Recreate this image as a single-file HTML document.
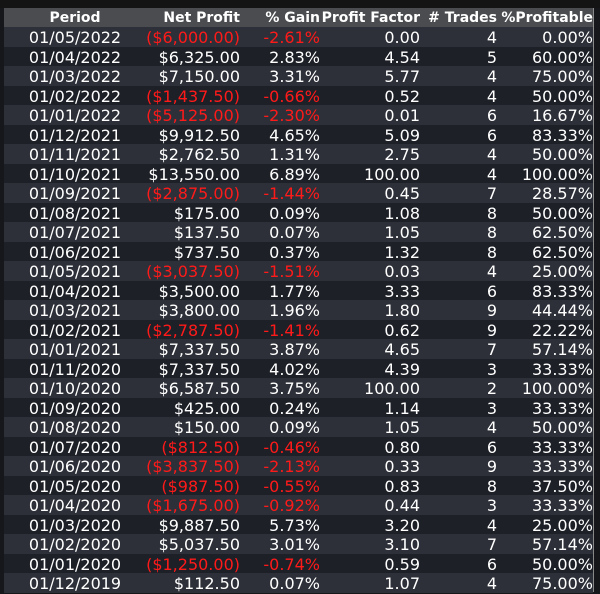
<!DOCTYPE html><html><head><style>
body{margin:0;width:600px;height:592px;overflow:hidden;background:#15171b;font-family:"DejaVu Sans",sans-serif;font-size:16px;color:#fff}
#w{position:absolute;left:4px;top:8px;width:589px;height:584px;background:#1d2027;border-left:1px solid #777;}
.r{position:absolute;left:0;width:589px;height:19.5px;line-height:21px}
.r span{position:absolute;white-space:nowrap}
.h{background:#4a4c50;font-weight:bold;height:19px;line-height:20px;font-size:14px}
.o{background:#2d3038}.e{background:#1d2027}
.red{color:#ff1a1a}
#sb{position:absolute;left:593px;top:8px;width:1px;height:584px;background:#888}
</style></head><body><div style="position:absolute;left:0;top:0;width:600px;height:8px;background:#141414"></div>
<div id="w"></div><div id="sb"></div>
<div id="t" style="position:absolute;left:4px;top:8px"></div>
<script>
const d=[["01/05/2022","($6,000.00)","-2.61%","0.00","4","0.00%"],["01/04/2022","$6,325.00","2.83%","4.54","5","60.00%"],["01/03/2022","$7,150.00","3.31%","5.77","4","75.00%"],["01/02/2022","($1,437.50)","-0.66%","0.52","4","50.00%"],["01/01/2022","($5,125.00)","-2.30%","0.01","6","16.67%"],["01/12/2021","$9,912.50","4.65%","5.09","6","83.33%"],["01/11/2021","$2,762.50","1.31%","2.75","4","50.00%"],["01/10/2021","$13,550.00","6.89%","100.00","4","100.00%"],["01/09/2021","($2,875.00)","-1.44%","0.45","7","28.57%"],["01/08/2021","$175.00","0.09%","1.08","8","50.00%"],["01/07/2021","$137.50","0.07%","1.05","8","62.50%"],["01/06/2021","$737.50","0.37%","1.32","8","62.50%"],["01/05/2021","($3,037.50)","-1.51%","0.03","4","25.00%"],["01/04/2021","$3,500.00","1.77%","3.33","6","83.33%"],["01/03/2021","$3,800.00","1.96%","1.80","9","44.44%"],["01/02/2021","($2,787.50)","-1.41%","0.62","9","22.22%"],["01/01/2021","$7,337.50","3.87%","4.65","7","57.14%"],["01/11/2020","$7,337.50","4.02%","4.39","3","33.33%"],["01/10/2020","$6,587.50","3.75%","100.00","2","100.00%"],["01/09/2020","$425.00","0.24%","1.14","3","33.33%"],["01/08/2020","$150.00","0.09%","1.05","4","50.00%"],["01/07/2020","($812.50)","-0.46%","0.80","6","33.33%"],["01/06/2020","($3,837.50)","-2.13%","0.33","9","33.33%"],["01/05/2020","($987.50)","-0.55%","0.83","8","37.50%"],["01/04/2020","($1,675.00)","-0.92%","0.44","3","33.33%"],["01/03/2020","$9,887.50","5.73%","3.20","4","25.00%"],["01/02/2020","$5,037.50","3.01%","3.10","7","57.14%"],["01/01/2020","($1,250.00)","-0.74%","0.59","6","50.00%"],["01/12/2019","$112.50","0.07%","1.07","4","75.00%"]];
const R=[236,316,416,493,589];
function row(c,top,cls,red){let s=`<div class="r ${cls}" style="top:${top}px"><span style="left:0;width:142px;text-align:center">${c[0]}</span>`;
for(let i=1;i<6;i++){let rc=red&&(i==1||i==2)?' class="red"':'';s+=`<span${rc} style="right:${589-R[i-1]}px">${c[i]}</span>`}return s+'</div>'}
let h=row(["Period","Net Profit","% Gain","Profit Factor","# Trades","%Profitable"],0,'h',false);
d.forEach((c,i)=>{h+=row(c,19+i*19.5,i%2?'e':'o',c[1][0]=='(')});
document.getElementById('t').innerHTML=h;
</script></body></html>
